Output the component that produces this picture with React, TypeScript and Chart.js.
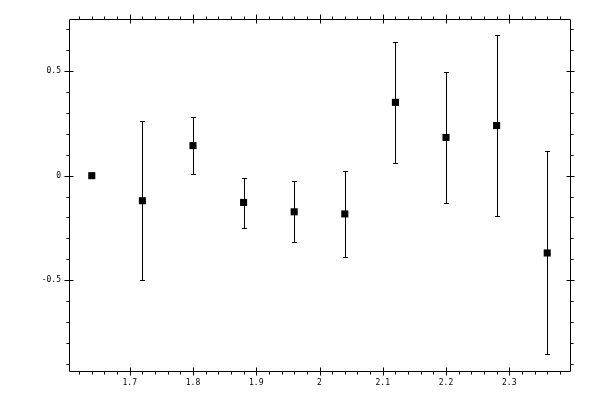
import { useEffect, useRef } from "react"
import { Chart, registerables } from "chart.js"

Chart.register(...registerables)

// measured values (x, centre, lower and upper end of the error bar)
const xValues = [1.64, 1.72, 1.8, 1.88, 1.96, 2.04, 2.12, 2.2, 2.28, 2.36]
const yValues = [0, -0.12, 0.144, -0.128, -0.173, -0.183, 0.351, 0.183, 0.24, -0.37]
const yLow = [0, -0.5, 0.01, -0.25, -0.317, -0.389, 0.063, -0.133, -0.192, -0.856]
const yHigh = [0, 0.264, 0.279, -0.01, -0.024, 0.024, 0.639, 0.495, 0.673, 0.12]

const xTicks = [1.7, 1.8, 1.9, 2, 2.1, 2.2, 2.3]
const xTickLabels = ["1.7", "1.8", "1.9", "2", "2.1", "2.2", "2.3"]
const yTicks = [-0.5, 0, 0.5]
const yTickLabels = ["-0.5", "0", "0.5"]

const X_MIN = 1.604
const X_MAX = 2.396
const Y_MIN = -0.935
const Y_MAX = 0.75

const snap = (v: number) => Math.round(v) + 0.5

const errorBars = {
  id: "errorBars",
  beforeDatasetsDraw(chart: Chart) {
    const { ctx } = chart
    const xs = chart.scales.x
    const ys = chart.scales.y
    ctx.save()
    ctx.strokeStyle = "#000"
    ctx.lineWidth = 1
    xValues.forEach((xv, i) => {
      if (yLow[i] === yHigh[i]) return
      const x = snap(xs.getPixelForValue(xv))
      const y1 = snap(ys.getPixelForValue(yLow[i]))
      const y2 = snap(ys.getPixelForValue(yHigh[i]))
      ctx.beginPath()
      ctx.moveTo(x, y1)
      ctx.lineTo(x, y2)
      ctx.moveTo(x - 2.5, y1)
      ctx.lineTo(x + 2.5, y1)
      ctx.moveTo(x - 2.5, y2)
      ctx.lineTo(x + 2.5, y2)
      ctx.stroke()
    })
    ctx.restore()
  },
}

const frameAndTicks = {
  id: "frameAndTicks",
  afterDraw(chart: Chart) {
    const { ctx, chartArea } = chart
    const xs = chart.scales.x
    const ys = chart.scales.y
    const left = snap(chartArea.left)
    const right = snap(chartArea.right)
    const top = snap(chartArea.top)
    const bottom = snap(chartArea.bottom)
    ctx.save()
    ctx.strokeStyle = "#000"
    ctx.lineWidth = 1
    ctx.beginPath()
    ctx.rect(left, top, right - left, bottom - top)

    // x ticks, minor every 0.02
    for (let i = 81; i <= 119; i++) {
      const x = snap(xs.getPixelForValue(i * 0.02))
      const major = i % 5 === 0
      ctx.moveTo(x, top - (major ? 5 : 3))
      ctx.lineTo(x, top + (major ? 4 : 0))
      ctx.moveTo(x, bottom + (major ? 4 : 3))
      ctx.lineTo(x, bottom - (major ? 4 : 0))
    }
    // y ticks, minor every 0.1
    for (let j = -9; j <= 7; j++) {
      const y = snap(ys.getPixelForValue(j * 0.1))
      const major = j % 5 === 0
      ctx.moveTo(left - (major ? 5 : 3), y)
      ctx.lineTo(left + (major ? 4 : 0), y)
      ctx.moveTo(right + (major ? 4 : 3), y)
      ctx.lineTo(right - (major ? 4 : 0), y)
    }
    ctx.stroke()

    ctx.fillStyle = "#000"
    ctx.font = '8px "DejaVu Sans Mono"'
    ctx.textAlign = "center"
    ctx.textBaseline = "middle"
    xTicks.forEach((t, i) => {
      ctx.fillText(xTickLabels[i], xs.getPixelForValue(t), chartArea.bottom + 12)
    })
    ctx.textAlign = "right"
    yTicks.forEach((t, i) => {
      ctx.fillText(yTickLabels[i], chartArea.left - 8, ys.getPixelForValue(t))
    })
    ctx.restore()
  },
}

export default function App() {
  const canvasRef = useRef<HTMLCanvasElement>(null)
  const chartRef = useRef<Chart | null>(null)

  useEffect(() => {
    if (!canvasRef.current) return
    if (chartRef.current) chartRef.current.destroy()

    chartRef.current = new Chart(canvasRef.current, {
      type: "scatter",
      data: {
        datasets: [
          {
            data: xValues.map((x, i) => ({ x, y: yValues[i] })),
            pointStyle: "rect",
            pointRadius: 5,
            backgroundColor: "#000",
            borderColor: "#000",
            borderWidth: 0,
          },
        ],
      },
      options: {
        animation: false,
        responsive: true,
        maintainAspectRatio: false,
        layout: { padding: { left: 69, right: 30, top: 19, bottom: 29 } },
        plugins: {
          legend: { display: false },
          tooltip: { enabled: false },
        },
        scales: {
          x: { type: "linear", min: X_MIN, max: X_MAX, display: false },
          y: { type: "linear", min: Y_MIN, max: Y_MAX, display: false },
        },
      },
      plugins: [errorBars, frameAndTicks],
    })

    return () => {
      if (chartRef.current) {
        chartRef.current.destroy()
        chartRef.current = null
      }
    }
  }, [])

  return (
    <div style={{ position: "fixed", left: 0, top: 0, width: 600, height: 400, background: "#fff" }}>
      <canvas ref={canvasRef}></canvas>
    </div>
  )
}
